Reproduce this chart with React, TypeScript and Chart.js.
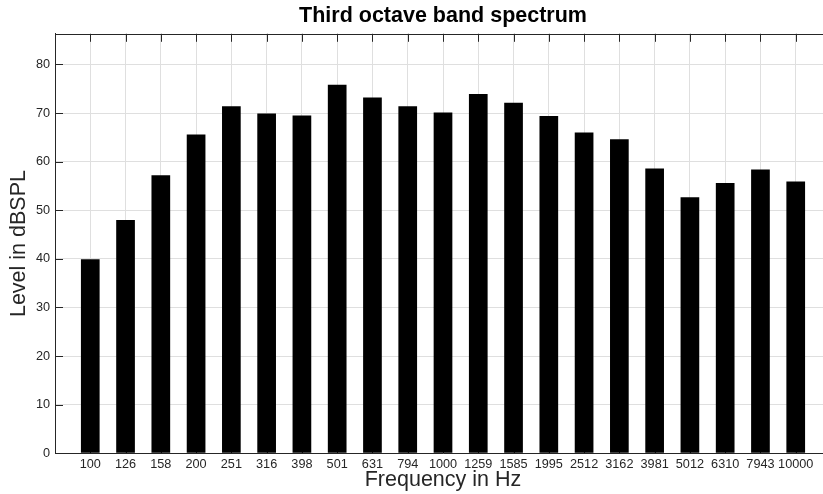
import React, { useEffect, useRef } from 'react';
import { Chart, registerables } from 'chart.js';

Chart.register(...registerables);

// ---- data ----
const categories = ['100', '126', '158', '200', '251', '316', '398', '501', '631', '794', '1000', '1259', '1585', '1995', '2512', '3162', '3981', '5012', '6310', '7943', '10000'];
const levels = [39.9, 48.0, 57.2, 65.6, 71.4, 69.9, 69.5, 75.8, 73.2, 71.4, 70.1, 73.9, 72.1, 69.4, 66.0, 64.6, 58.6, 52.7, 55.6, 58.4, 55.9];
const yTickValues = [0, 10, 20, 30, 40, 50, 60, 70, 80];
const Y_MAX = 86.3;
const titleText = 'Third octave band spectrum';
const xLabel = 'Frequency in Hz';
const yLabel = 'Level in dBSPL';

// ---- styles ----
const AXIS = '#262626';
const GRID = '#dfdfdf';
const FONT = '"Liberation Sans", Arial, Helvetica, sans-serif';
const TICK_LEN = 8;

const matlabFrame = {
  id: 'matlabFrame',
  beforeDatasetsDraw(chart: any) {
    const { ctx, chartArea } = chart;
    const { left, right, top, bottom } = chartArea;
    const xs = chart.scales.x;
    const ys = chart.scales.y;
    const a = (v: number) => Math.round(v) + 0.5;
    ctx.save();
    ctx.strokeStyle = AXIS;
    ctx.lineWidth = 1;
    ctx.beginPath();
    ctx.moveTo(left, a(top));
    ctx.lineTo(right, a(top));
    ctx.moveTo(a(right), top);
    ctx.lineTo(a(right), bottom);
    categories.forEach((_, i) => {
      const px = a(xs.getPixelForValue(i + 1));
      ctx.moveTo(px, top);
      ctx.lineTo(px, top + TICK_LEN);
      ctx.moveTo(px, bottom);
      ctx.lineTo(px, bottom - TICK_LEN);
    });
    ys.ticks.forEach((t: any) => {
      const py = a(ys.getPixelForValue(t.value));
      ctx.moveTo(left, py);
      ctx.lineTo(left + TICK_LEN, py);
      ctx.moveTo(right, py);
      ctx.lineTo(right - TICK_LEN, py);
    });
    ctx.stroke();
    ctx.restore();
  },
};

export default function App() {
  const ref = useRef<HTMLCanvasElement>(null);

  useEffect(() => {
    const canvas = ref.current!;
    const chart = new Chart(canvas, {
      type: 'bar',
      data: {
        datasets: [
          {
            data: levels.map((v, i) => ({ x: i + 1, y: v })),
            backgroundColor: '#000000',
            borderWidth: 0,
            categoryPercentage: 1,
            barPercentage: 0.53,
          },
        ],
      },
      options: {
        animation: false,
        responsive: false,
        devicePixelRatio: 1,
        layout: { padding: { left: 0, right: 9, top: 0, bottom: 0 } },
        plugins: {
          legend: { display: false },
          tooltip: { enabled: false },
          title: {
            display: true,
            text: titleText,
            fullSize: false,
            color: '#000000',
            font: { family: FONT, size: 21.5, weight: 'bold' },
            padding: { top: 3, bottom: 5 },
          },
        },
        scales: {
          x: {
            type: 'linear',
            min: 0,
            max: categories.length + 1,
            offset: false,
            grid: { offset: false, color: GRID, drawTicks: false, lineWidth: 1 },
            border: { display: true, color: AXIS, width: 1 },
            ticks: {
              stepSize: 1,
              autoSkip: false,
              maxRotation: 0,
              minRotation: 0,
              padding: 4,
              color: AXIS,
              font: { family: FONT, size: 12.7 },
              callback: (v: any) => categories[Math.round(Number(v)) - 1] ?? '',
            },
            title: {
              display: true,
              text: xLabel,
              color: AXIS,
              font: { family: FONT, size: 21.5 },
              padding: { top: 0, bottom: 1.4 },
            },
            afterFit: (s: any) => {
              s.height = 40.7;
            },
          },
          y: {
            type: 'linear',
            min: 0,
            max: Y_MAX,
            grid: { color: GRID, drawTicks: false, lineWidth: 1 },
            border: { display: true, color: AXIS, width: 1 },
            ticks: {
              stepSize: 10,
              padding: 5,
              color: AXIS,
              font: { family: FONT, size: 12.7 },
            },
            afterBuildTicks: (s: any) => {
              s.ticks = s.ticks.filter((t: any) => yTickValues.some((v) => Math.abs(v - t.value) < 1e-9));
            },
            title: {
              display: true,
              text: yLabel,
              color: AXIS,
              font: { family: FONT, size: 21.5 },
              padding: { top: 6.3, bottom: 0 },
            },
            afterFit: (s: any) => {
              s.width = 55;
            },
          },
        },
      } as any,
      plugins: [matlabFrame],
    });
    return () => chart.destroy();
  }, []);

  return (
    <div style={{ position: 'fixed', left: 0, top: 0, width: 823, height: 494, overflow: 'hidden', background: '#ffffff' }}>
      <canvas ref={ref} width={840} height={494} style={{ display: 'block' }} />
    </div>
  );
}
